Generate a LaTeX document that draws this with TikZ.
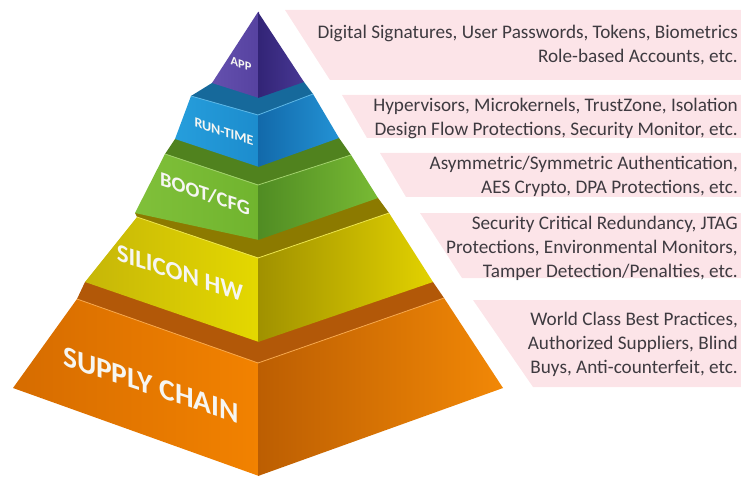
\documentclass[tikz,border=0pt]{standalone}
\usepackage{fontspec}
\setmainfont{Carlito}
\definecolor{bandpink}{RGB}{252,228,232}
\definecolor{infotext}{RGB}{62,58,64}
\definecolor{labeltext}{RGB}{246,246,242}
\definecolor{supLedge}{RGB}{178,88,8}
\definecolor{supLa}{RGB}{214,108,0}
\definecolor{supLb}{RGB}{242,130,0}
\definecolor{supRa}{RGB}{188,94,2}
\definecolor{supRb}{RGB}{242,136,6}
\definecolor{siLedge}{RGB}{140,122,0}
\definecolor{siLa}{RGB}{198,182,8}
\definecolor{siLb}{RGB}{228,216,0}
\definecolor{siRa}{RGB}{160,145,0}
\definecolor{siRb}{RGB}{226,210,0}
\definecolor{bootLedge}{RGB}{80,130,30}
\definecolor{bootLa}{RGB}{128,192,58}
\definecolor{bootLb}{RGB}{112,180,46}
\definecolor{bootRa}{RGB}{80,140,35}
\definecolor{bootRb}{RGB}{120,186,52}
\definecolor{rtLedge}{RGB}{22,105,155}
\definecolor{rtLa}{RGB}{38,158,220}
\definecolor{rtLb}{RGB}{28,140,205}
\definecolor{rtRa}{RGB}{18,105,170}
\definecolor{rtRb}{RGB}{35,146,212}
\definecolor{appLa}{RGB}{100,80,174}
\definecolor{appLb}{RGB}{86,66,160}
\definecolor{appRa}{RGB}{50,36,118}
\definecolor{appRb}{RGB}{72,56,148}
\begin{document}
\begin{tikzpicture}[x=1pt,y=-1pt,
  lbl/.style={text=labeltext, inner sep=0pt, yslant=-0.33},
  info/.style={text=infotext, inner sep=0pt, align=right, anchor=east,
    font=\fontsize{19.2}{24}\selectfont},
  band/.style={fill=bandpink},
  rim/.style={line width=0.8pt, line join=round}]
\useasboundingbox (0,0) rectangle (741,481);

% ---------- pink bands ----------
\fill[band] (285,10) -- (741,10) -- (741,80) -- (330,80) -- cycle;
\fill[band] (342,95) -- (741,95) -- (741,138) -- (367,138) -- cycle;
\fill[band] (380,153) -- (741,153) -- (741,197) -- (406,197) -- cycle;
\fill[band] (420,213) -- (741,213) -- (741,278) -- (462,278) -- cycle;
\fill[band] (473,300) -- (741,300) -- (741,387) -- (533,387) -- cycle;

% ---------- coordinates ----------
\coordinate (apT) at (258,12);
\coordinate (apL) at (212,83);
\coordinate (apF) at (258,98);
\coordinate (apR) at (304,82);
\coordinate (apIn) at (258,60);
\coordinate (rtTL) at (191,96);  \coordinate (rtTF) at (258,115); \coordinate (rtTR) at (313,94);
\coordinate (rtBL) at (175,139); \coordinate (rtBF) at (258,167); \coordinate (rtBR) at (339,138);
\coordinate (btTL) at (165,154); \coordinate (btTF) at (258,185); \coordinate (btTR) at (351,155);
\coordinate (btBL) at (135,213); \coordinate (btBF) at (258,240); \coordinate (btBR) at (378,198);
\coordinate (siTL) at (137,217); \coordinate (siTF) at (258,258); \coordinate (siTR) at (389,213);
\coordinate (siBL) at (85,282);  \coordinate (siBF) at (258,342); \coordinate (siBR) at (433,282);
\coordinate (suTL) at (77,299);  \coordinate (suTF) at (258,363); \coordinate (suTR) at (444,298);
\coordinate (suBL) at (13,388);  \coordinate (suBF) at (258,476); \coordinate (suBR) at (503,388);

% ---------- supply chain ----------
\fill[supLedge] (suTL) -- (siBL) -- (siTF) -- (siBR) -- (suTR) -- (suTF) -- cycle;
\shade[left color=supLa, right color=supLb] (suTL) -- ([xshift=1pt]suTF) -- ([xshift=1pt]suBF) -- (suBL) -- cycle;
\shade[left color=supRa, right color=supRb] (suTF) -- (suTR) -- (suBR) -- (suBF) -- cycle;
\draw[rim, draw=supLb!70!white] (suTL) -- (suTF) -- (suTR);

% ---------- silicon hw ----------
\fill[siLedge] (siTL) -- (btBL) -- (btTF) -- (btBR) -- (siTR) -- (siTF) -- cycle;
\shade[left color=siLa, right color=siLb] (siTL) -- ([xshift=1pt]siTF) -- ([xshift=1pt]siBF) -- (siBL) -- cycle;
\shade[left color=siRa, right color=siRb] (siTF) -- (siTR) -- (siBR) -- (siBF) -- cycle;
\draw[rim, draw=siLb!70!white] (siTL) -- (siTF) -- (siTR);

% ---------- boot/cfg ----------
\fill[bootLedge] (btTL) -- (rtBL) -- (rtTF) -- (rtBR) -- (btTR) -- (btTF) -- cycle;
\shade[left color=bootLa, right color=bootLb] (btTL) -- ([xshift=1pt]btTF) -- ([xshift=1pt]btBF) -- (btBL) -- cycle;
\shade[left color=bootRa, right color=bootRb] (btTF) -- (btTR) -- (btBR) -- (btBF) -- cycle;
\draw[rim, draw=bootLa!75!white] (btTL) -- (btTF) -- (btTR);

% ---------- run-time ----------
\fill[rtLedge] (rtTL) -- (apL) -- (apIn) -- (apR) -- (rtTR) -- (rtTF) -- cycle;
\shade[left color=rtLa, right color=rtLb] (rtTL) -- ([xshift=1pt]rtTF) -- ([xshift=1pt]rtBF) -- (rtBL) -- cycle;
\shade[left color=rtRa, right color=rtRb] (rtTF) -- (rtTR) -- (rtBR) -- (rtBF) -- cycle;
\draw[rim, draw=rtLa!75!white] (rtTL) -- (rtTF) -- (rtTR);

% ---------- app ----------
\shade[left color=appLa, right color=appLb] (apT) -- ([xshift=1pt]apT) -- ([xshift=1pt]apF) -- (apL) -- cycle;
\shade[left color=appRa, right color=appRb] (apT) -- (apR) -- (apF) -- cycle;

% ---------- layer labels ----------
\node[lbl, font=\bfseries\fontsize{12.5}{12.5}\selectfont] (app) at (241,64) {APP};
\node[lbl, font=\bfseries\fontsize{14}{14}\selectfont] (rt) at (224,132) {RUN-TIME};
\node[lbl, font=\bfseries\fontsize{20.5}{20.5}\selectfont] (boot) at (205,194) {BOOT/CFG};
\node[lbl, font=\bfseries\fontsize{25}{25}\selectfont] (si) at (180,273) {SILICON HW};
\node[lbl, font=\bfseries\fontsize{29.5}{29.5}\selectfont] (sup) at (151,385) {SUPPLY CHAIN};

% ---------- descriptions ----------
\node[info] (t1) at (738,45.5) {Digital Signatures, User Passwords, Tokens, Biometrics\\Role-based Accounts, etc.};
\node[info] (t2) at (738,118.5) {Hypervisors, Microkernels, TrustZone, Isolation\\Design Flow Protections, Security Monitor, etc.};
\node[info] (t3) at (738,176.5) {Asymmetric/Symmetric Authentication,\\AES Crypto, DPA Protections, etc.};
\node[info] (t4) at (738,248.5) {Security Critical Redundancy, JTAG\\Protections, Environmental Monitors,\\Tamper Detection/Penalties, etc.};
\node[info] (t5) at (738,344.5) {World Class Best Practices,\\Authorized Suppliers, Blind\\Buys, Anti-counterfeit, etc.};
\end{tikzpicture}
\end{document}
